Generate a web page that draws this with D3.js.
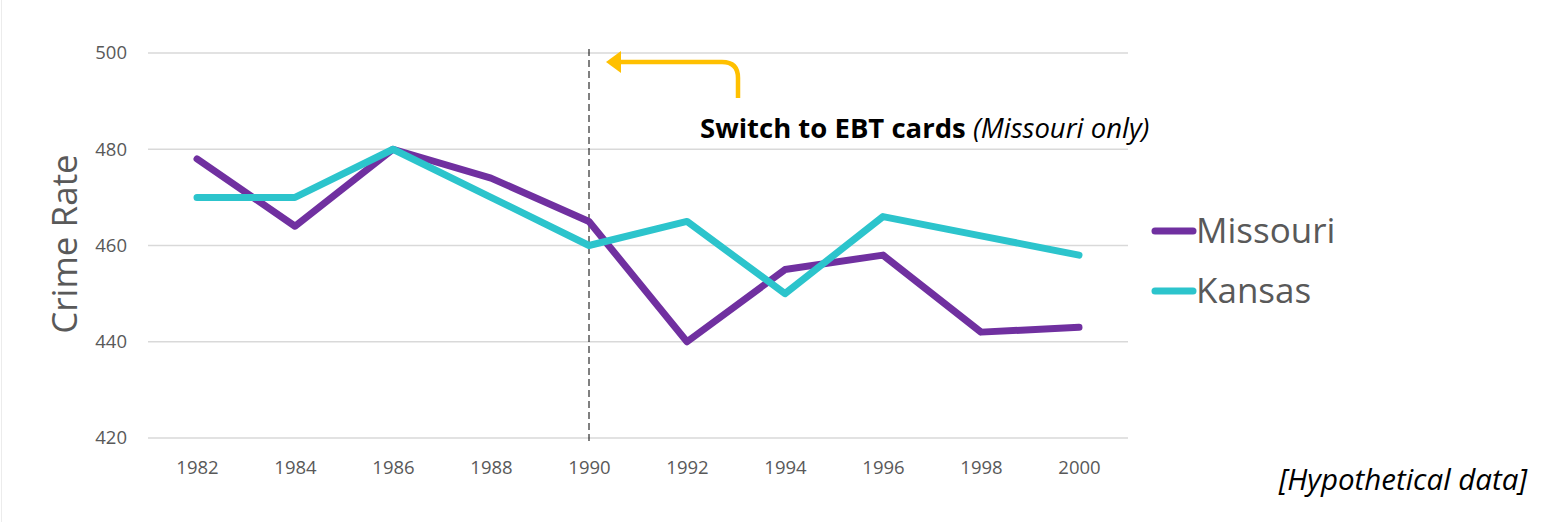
<!DOCTYPE html>
<html>
<head>
<meta charset="utf-8">
<script src="https://cdn.jsdelivr.net/npm/d3@7"></script>
<style>
  body { margin: 0; background: #fff; }
  svg { display: block; font-family: "Open Sans", sans-serif; }
</style>
</head>
<body>
<div id="chart"></div>
<script>
// data
const years = [1982, 1984, 1986, 1988, 1990, 1992, 1994, 1996, 1998, 2000];
const missouri = [478, 464, 480, 474, 465, 440, 455, 458, 442, 443];
const kansas = [470, 470, 480, 470, 460, 465, 450, 466, 462, 458];
const yTicks = [420, 440, 460, 480, 500];
const seriesNames = ["Missouri", "Kansas"];
const seriesColors = ["#7030a0", "#2cc4cc"];
const switchYear = 1990;

const width = 1551, height = 522;

const svg = d3.select("#chart").append("svg")
    .attr("width", width)
    .attr("height", height);

// faint page edge on the left
svg.append("line")
    .attr("x1", 1.5).attr("x2", 1.5)
    .attr("y1", 0).attr("y2", height)
    .attr("stroke", "#ececec");

const x = d3.scalePoint()
    .domain(years)
    .range([148, 1128])
    .padding(0.5);

const y = d3.scaleLinear()
    .domain([420, 500])
    .range([438, 53]);

// gridlines
svg.append("g")
    .selectAll("line")
    .data(yTicks)
    .join("line")
    .attr("x1", 148).attr("x2", 1128)
    .attr("y1", d => y(d)).attr("y2", d => y(d))
    .attr("stroke", "#d9d9d9")
    .attr("stroke-width", 1.3);

// y axis labels
const yAxis = svg.append("g")
    .attr("transform", "translate(127,0)")
    .call(d3.axisLeft(y).tickValues(yTicks).tickSize(0).tickPadding(0));
yAxis.select(".domain").remove();
yAxis.selectAll("text")
    .attr("font-family", "Open Sans, sans-serif")
    .attr("font-size", 18.5)
    .attr("fill", "#595959");

// x axis labels
const xAxis = svg.append("g")
    .attr("transform", "translate(0,461)")
    .call(d3.axisBottom(x).tickSize(0).tickPadding(0));
xAxis.select(".domain").remove();
xAxis.selectAll("text")
    .attr("font-family", "Open Sans, sans-serif")
    .attr("font-size", 18.5)
    .attr("fill", "#595959");

// y title
svg.append("text")
    .attr("transform", "translate(77,244) rotate(-90)")
    .attr("text-anchor", "middle")
    .attr("font-size", 35)
    .attr("fill", "#595959")
    .text("Crime Rate");

// dashed marker at the switch
svg.append("line")
    .attr("x1", x(switchYear)).attr("x2", x(switchYear))
    .attr("y1", 49).attr("y2", 441)
    .attr("stroke", "#000")
    .attr("stroke-width", 1)
    .attr("stroke-dasharray", "7,4");

// lines
const line = d3.line()
    .x((d, i) => x(years[i]))
    .y(d => y(d));

[missouri, kansas].forEach((vals, k) => {
    svg.append("path")
        .datum(vals)
        .attr("fill", "none")
        .attr("stroke", seriesColors[k])
        .attr("stroke-width", 7)
        .attr("stroke-linejoin", "round")
        .attr("stroke-linecap", "round")
        .attr("d", line);
});

// legend
const legend = svg.append("g")
    .selectAll("g")
    .data(seriesNames)
    .join("g")
    .attr("transform", (d, i) => `translate(1155,${231 + i * 60})`);
legend.append("line")
    .attr("x1", 0).attr("x2", 38)
    .attr("stroke", (d, i) => seriesColors[i])
    .attr("stroke-width", 7)
    .attr("stroke-linecap", "round");
legend.append("text")
    .attr("x", 41)
    .attr("y", 12)
    .attr("font-size", 35)
    .attr("fill", "#595959")
    .text(d => d);

// annotation arrow
const ax = 738, ay = 62, r = 16;
svg.append("path")
    .attr("d", `M${ax},98 L${ax},${ay + r} Q${ax},${ay} ${ax - r},${ay} L618,${ay}`)
    .attr("fill", "none")
    .attr("stroke", "#ffc000")
    .attr("stroke-width", 4.5);
svg.append("path")
    .attr("d", `M606,${ay} L621,${ay - 11} L621,${ay + 11} Z`)
    .attr("fill", "#ffc000");

const note = svg.append("text")
    .attr("x", 700)
    .attr("y", 138)
    .attr("font-family", "Open Sans, sans-serif")
    .attr("font-size", 27.5)
    .attr("fill", "#000");
note.append("tspan").attr("font-weight", "bold").text("Switch to EBT cards ");
note.append("tspan").attr("font-style", "italic").text("(Missouri only)");

svg.append("text")
    .attr("x", 1527)
    .attr("y", 490)
    .attr("text-anchor", "end")
    .attr("font-family", "Open Sans, sans-serif")
    .attr("font-style", "italic")
    .attr("font-size", 29.5)
    .attr("fill", "#000")
    .text("[Hypothetical data]");
</script>
</body>
</html>
